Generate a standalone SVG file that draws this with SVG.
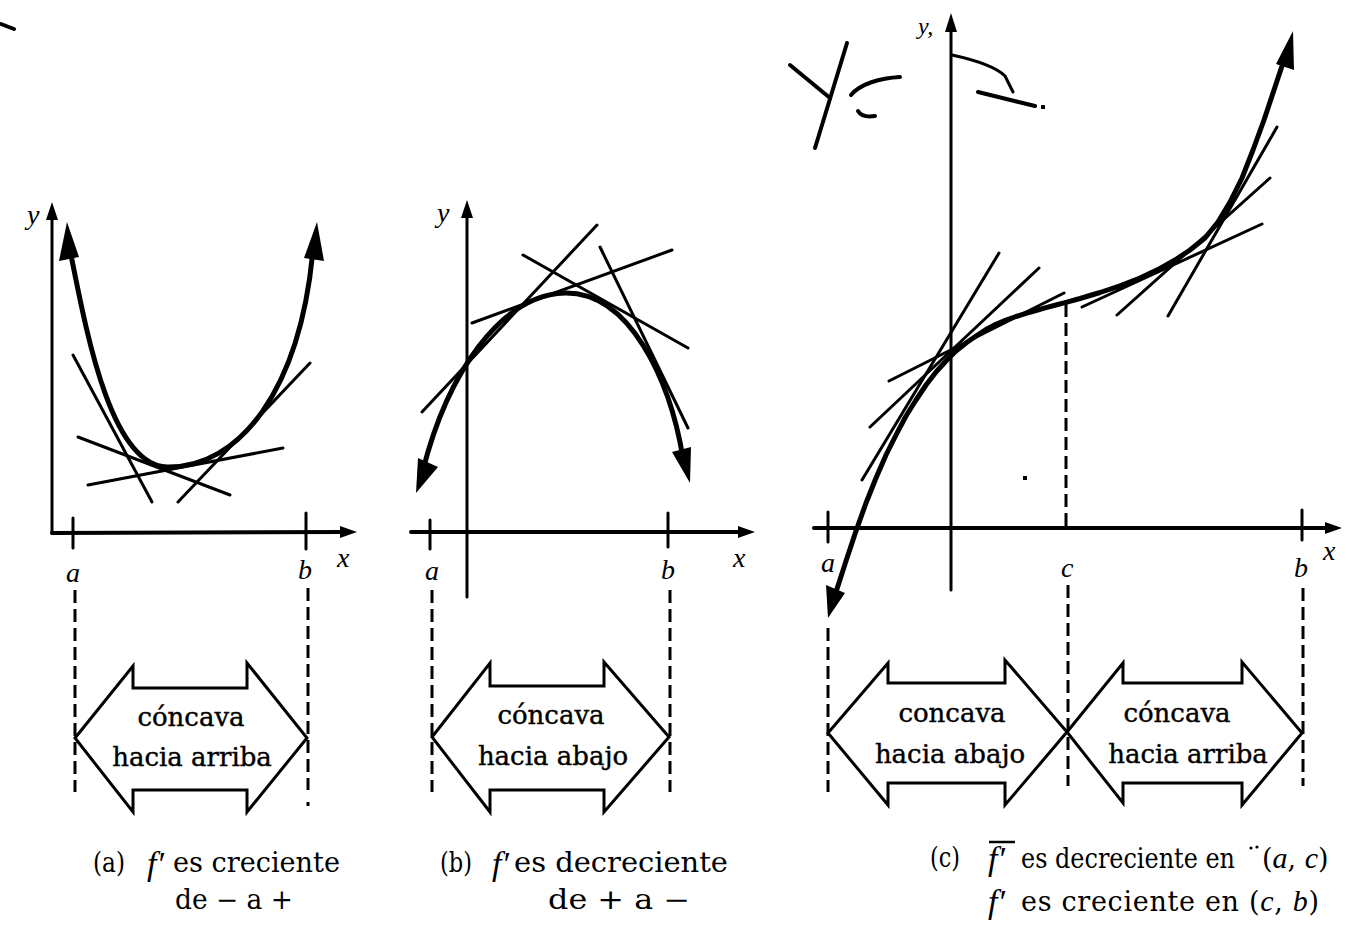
<svg xmlns="http://www.w3.org/2000/svg" width="1353" height="925" viewBox="0 0 1353 925">
<style>
.ax{stroke:#000;stroke-width:3;fill:none;stroke-linecap:round}
.axx{stroke:#000;stroke-width:4;fill:none;stroke-linecap:round}
.cv{stroke:#000;stroke-width:5;fill:none;stroke-linecap:round;stroke-linejoin:round}
.tg{stroke:#000;stroke-width:3;fill:none;stroke-linecap:round}
.ds{stroke:#000;stroke-width:3;fill:none;stroke-dasharray:13 6}
.ah{fill:#000;stroke:none}
.box{fill:#fff;stroke:#000;stroke-width:3;stroke-linejoin:miter}
.lbl{font-family:"Liberation Serif",serif;font-style:italic;font-size:28px;fill:#000}
.bt{font-family:"DejaVu Serif",serif;font-size:26px;text-anchor:middle;fill:#000;stroke:#000;stroke-width:0.4}
.cap{font-family:"DejaVu Serif",serif;font-size:27px;fill:#000}
.fi{font-family:"Liberation Serif",serif;font-style:italic;font-size:34px;fill:#000}
.it{font-family:"Liberation Serif",serif;font-style:italic}
.hw{stroke:#000;stroke-width:4;fill:none;stroke-linecap:round;stroke-linejoin:round}
</style>
<rect width="1353" height="925" fill="#fff"/>

<!-- stray mark top-left -->
<line class="hw" x1="1" y1="24" x2="14" y2="29"/>

<!-- ===== Panel (a) ===== -->
<g id="panel-a">
  <g id="a-axes">
    <line class="ax" x1="52" y1="533" x2="52" y2="212"/>
    <polygon class="ah" points="52,202 46,220 58,220"/>
    <line class="axx" x1="52" y1="533" x2="345" y2="532"/>
    <polygon class="ah" points="357,532 340,526 340,538"/>
    <line class="ax" x1="73" y1="518" x2="73" y2="548"/>
    <line class="ax" x1="306" y1="513" x2="306" y2="549"/>
    <text class="lbl" x="27" y="224">y</text>
    <text class="lbl" x="66" y="582">a</text>
    <text class="lbl" x="298" y="579">b</text>
    <text class="lbl" x="337" y="567">x</text>
  </g>
  <g id="a-tangents">
    <line class="tg" x1="73" y1="355" x2="152" y2="502"/>
    <line class="tg" x1="78" y1="437" x2="230" y2="495"/>
    <line class="tg" x1="88" y1="485" x2="283" y2="448"/>
    <line class="tg" x1="178" y1="502" x2="310" y2="363"/>
  </g>
  <g id="a-curve">
    <path class="cv" d="M70,250 C 86,330 110,465 167,467 C 240,468 300,390 313,250"/>
    <polygon class="ah" points="67,222 59,261 79,257"/>
    <polygon class="ah" points="317,222 304,258 324,261"/>
  </g>
  <g id="a-interval">
    <line class="ds" x1="75" y1="590" x2="75" y2="792"/>
    <line class="ds" x1="308" y1="588" x2="308" y2="790"/>
    <rect x="306.5" y="802" width="3" height="4" fill="#000"/>
    <polygon class="box" points="75,738 133,666 133,688 247,688 247,663 307,738 247,812 247,790 133,790 133,812"/>
    <text class="bt" x="191" y="726">cóncava</text>
    <text class="bt" x="192" y="766">hacia arriba</text>
  </g>
  <g id="a-caption">
    <text class="cap" x="93" y="872" textLength="32" lengthAdjust="spacingAndGlyphs">(a)</text>
    <text class="fi" x="147" y="875">f′</text>
    <text class="cap" x="173" y="872" textLength="167" lengthAdjust="spacingAndGlyphs">es creciente</text>
    <text class="cap" x="175" y="909" textLength="118" lengthAdjust="spacingAndGlyphs">de − a +</text>
  </g>
</g>

<!-- ===== Panel (b) ===== -->
<g id="panel-b">
  <g id="b-axes">
    <line class="ax" x1="467" y1="597" x2="467" y2="210"/>
    <polygon class="ah" points="467,200 461,218 473,218"/>
    <line class="axx" x1="411" y1="532" x2="742" y2="532"/>
    <polygon class="ah" points="755,532 738,526 738,538"/>
    <line class="ax" x1="430" y1="520" x2="430" y2="549"/>
    <line class="ax" x1="668" y1="513" x2="668" y2="547"/>
    <text class="lbl" x="437" y="222">y</text>
    <text class="lbl" x="425" y="580">a</text>
    <text class="lbl" x="661" y="579">b</text>
    <text class="lbl" x="733" y="567">x</text>
  </g>
  <g id="b-tangents">
    <line class="tg" x1="422" y1="412" x2="597" y2="225"/>
    <line class="tg" x1="472" y1="323" x2="672" y2="250"/>
    <line class="tg" x1="523" y1="255" x2="688" y2="348"/>
    <line class="tg" x1="600" y1="247" x2="688" y2="428"/>
  </g>
  <g id="b-curve">
    <path class="cv" d="M423,470 C 447,375 500,295 565,293 C 630,292 670,380 683,458"/>
    <polygon class="ah" points="416,493 418,458 438,467"/>
    <polygon class="ah" points="690,483 672,452 691,447"/>
  </g>
  <g id="b-interval">
    <line class="ds" x1="432" y1="590" x2="432" y2="792"/>
    <line class="ds" x1="670" y1="590" x2="670" y2="792"/>
    <polygon class="box" points="432,737 490,663 490,686 604,686 604,662 669,737 604,812 604,790 490,790 490,812"/>
    <text class="bt" x="551" y="724">cóncava</text>
    <text class="bt" x="553" y="765">hacia abajo</text>
  </g>
  <g id="b-caption">
    <text class="cap" x="440" y="872" textLength="32" lengthAdjust="spacingAndGlyphs">(b)</text>
    <text class="fi" x="492" y="875">f′</text>
    <text class="cap" x="514" y="872" textLength="214" lengthAdjust="spacingAndGlyphs">es decreciente</text>
    <text class="cap" x="548" y="909" textLength="142" lengthAdjust="spacingAndGlyphs">de + a −</text>
  </g>
</g>

<!-- ===== Panel (c) ===== -->
<g id="panel-c">
  <g id="c-handwriting">
    <line class="hw" x1="790" y1="65" x2="830" y2="98"/>
    <line class="hw" x1="847" y1="43" x2="815" y2="148"/>
    <path class="hw" d="M900,77 C 880,78 860,84 851,95"/>
    <path class="hw" d="M858,111 Q 862,118 875,116"/>
    <path class="ax" d="M952,55 C 975,60 995,66 1005,76 L1013,92"/>
    <line class="hw" x1="978" y1="92" x2="1035" y2="106"/>
    <rect x="1041" y="105" width="4" height="4" fill="#000"/>
  </g>
  <g id="c-axes">
    <line class="ax" x1="951" y1="590" x2="951" y2="22"/>
    <polygon class="ah" points="951,13 945,32 957,32"/>
    <line class="axx" x1="814" y1="528" x2="1328" y2="528"/>
    <polygon class="ah" points="1342,528 1325,522 1325,534"/>
    <line class="ax" x1="828" y1="512" x2="828" y2="542"/>
    <line class="ax" x1="1302" y1="510" x2="1302" y2="540"/>
    <line class="ds" x1="1066" y1="304" x2="1066" y2="528"/>
    <text class="lbl" x="918" y="34" style="font-size:24px">y,</text>
    <text class="lbl" x="821" y="572">a</text>
    <text class="lbl" x="1061" y="577">c</text>
    <text class="lbl" x="1294" y="577">b</text>
    <text class="lbl" x="1323" y="560">x</text>
    <rect x="1023" y="476" width="4" height="4" fill="#000"/>
  </g>
  <g id="c-tangents">
    <line class="tg" x1="889" y1="381" x2="1064" y2="293"/>
    <line class="tg" x1="870" y1="427" x2="1039" y2="268"/>
    <line class="tg" x1="862" y1="480" x2="999" y2="253"/>
    <line class="tg" x1="1082" y1="307" x2="1262" y2="224"/>
    <line class="tg" x1="1117" y1="315" x2="1270" y2="178"/>
    <line class="tg" x1="1168" y1="316" x2="1277" y2="127"/>
  </g>
  <g id="c-curve">
    <path class="cv" d="M836,592 L846,561 L856,531 L866,503 L876,478 L886,455 L896,435 L906,416 L916,400 L926,385 L936,372 L946,361 L956,351 L966,343 L976,336 L986,329.5 L996,324.3 L1006,320 L1016,316.5 L1026,313.4 L1036,310.5 L1046,307.7 L1056,305 L1066,302.3 L1080,298.5 L1100,292.5 L1120,285.8 L1140,278 L1160,268.5 L1175,260 L1190,250 L1205,238 L1218,222 L1230,202 L1242,178 L1253,150 L1264,120 L1274,90 L1282,66"/>
    <polygon class="ah" points="1293,31 1276,64 1294,70"/>
    <polygon class="ah" points="828,618 826,585 845,593"/>
  </g>
  <g id="c-interval">
    <line class="ds" x1="828" y1="628" x2="828" y2="792"/>
    <line class="ds" x1="1068" y1="585" x2="1068" y2="786"/>
    <line class="ds" x1="1303" y1="588" x2="1303" y2="786"/>
    <polygon class="box" points="828,733 888,663 888,683 1005,683 1005,660 1067,732 1005,805 1005,783 888,783 888,805"/>
    <polygon class="box" points="1067,732 1123,663 1123,683 1242,683 1242,662 1302,733 1242,805 1242,783 1123,783 1123,803"/>
    <text class="bt" x="952" y="722">concava</text>
    <text class="bt" x="950" y="763">hacia abajo</text>
    <text class="bt" x="1177" y="722">cóncava</text>
    <text class="bt" x="1188" y="763">hacia arriba</text>
  </g>
  <g id="c-caption">
    <text class="cap" x="930" y="867" textLength="30" lengthAdjust="spacingAndGlyphs">(c)</text>
    <line x1="989" y1="842" x2="1015" y2="842" stroke="#000" stroke-width="2.5"/>
    <text class="fi" x="988" y="870">f′</text>
    <text class="cap" x="1021" y="868" textLength="214" lengthAdjust="spacingAndGlyphs">es decreciente en</text>
    <circle cx="1251" cy="848" r="1.6" fill="#000"/>
    <circle cx="1257" cy="847" r="1.6" fill="#000"/>
    <text class="cap" x="1262" y="868">(<tspan class="it" font-size="30">a</tspan>, <tspan class="it" font-size="30">c</tspan>)</text>
    <text class="fi" x="988" y="913">f′</text>
    <text class="cap" x="1021" y="911" textLength="298" lengthAdjust="spacing">es creciente en (<tspan class="it" font-size="30">c</tspan>, <tspan class="it" font-size="30">b</tspan>)</text>
  </g>
</g>
</svg>
